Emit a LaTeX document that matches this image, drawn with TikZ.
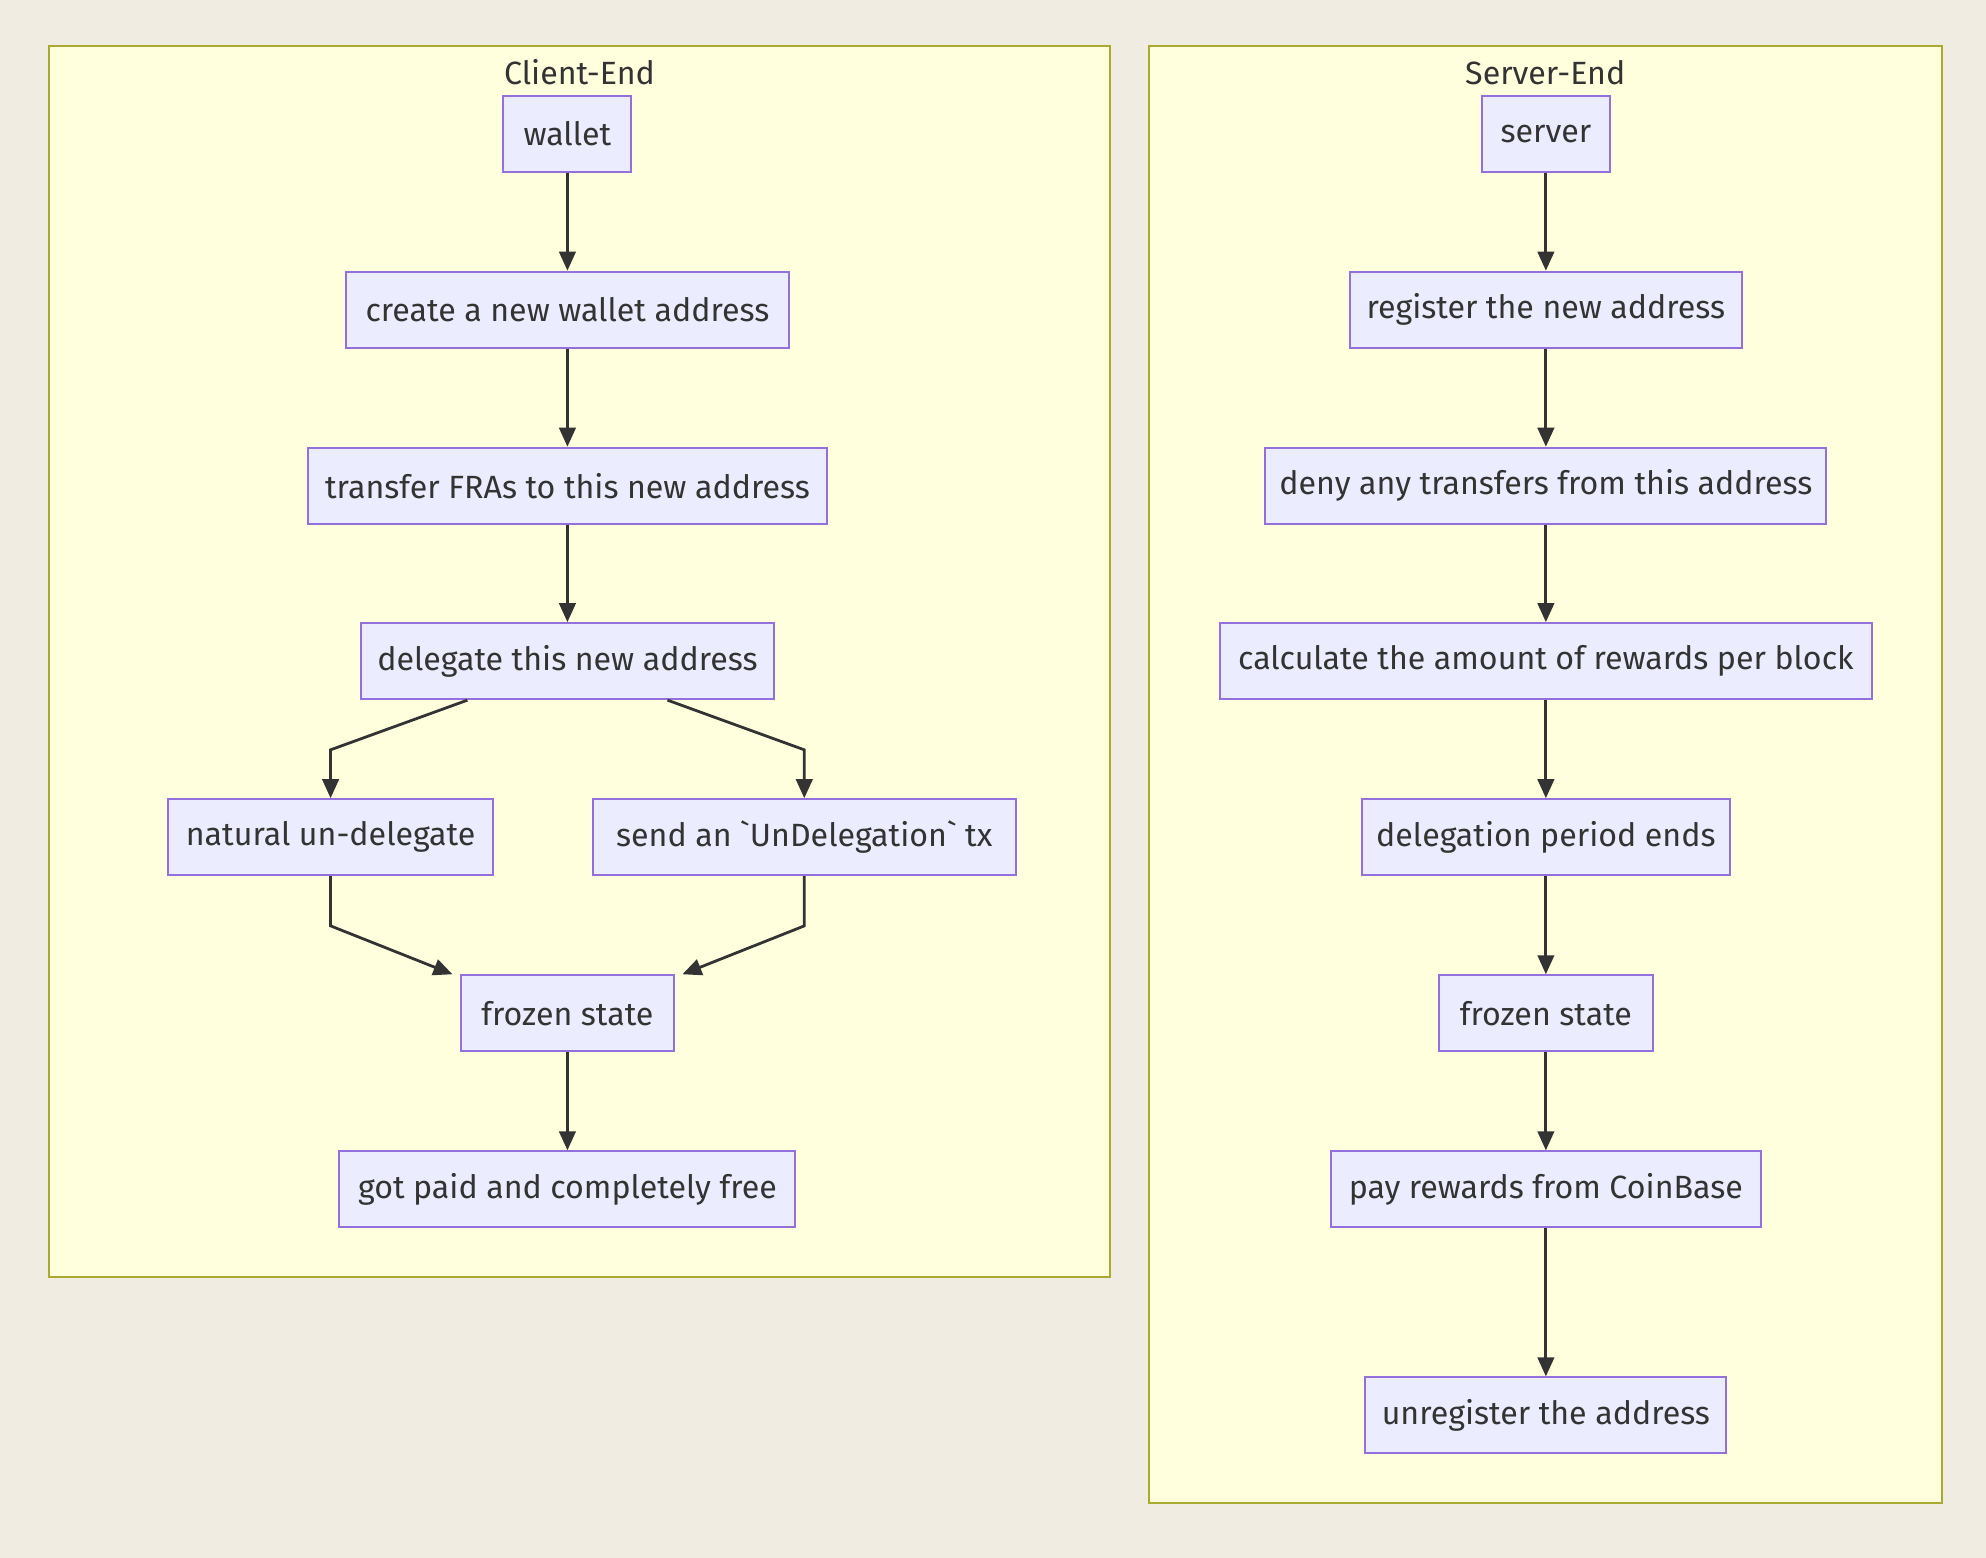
\documentclass[tikz,border=0pt]{standalone}
\usepackage{fontspec}
\setmainfont{Fira Sans}
\usepackage{xcolor}
\usetikzlibrary{arrows.meta,calc}

\definecolor{paper}{HTML}{F0ECE2}
\definecolor{groupfill}{HTML}{FFFFDE}
\definecolor{groupline}{HTML}{AAAA33}
\definecolor{boxfill}{HTML}{ECECFF}
\definecolor{boxline}{HTML}{9370DB}
\definecolor{ink}{HTML}{333333}

\tikzset{
  stepbox/.style={draw=boxline, fill=boxfill, line width=0.8pt, minimum height=30pt,
    inner sep=0pt, text=ink, font=\fontsize{12.7}{15}\selectfont},
  flow/.style={draw=ink, line width=1.1pt, -{Triangle[length=7.5pt,width=6.5pt]}},
  group/.style={draw=groupline, fill=groupfill, line width=0.8pt},
  grouptitle/.style={text=ink, font=\fontsize{12.7}{15}\selectfont}
}

\begin{document}
\begin{tikzpicture}[x=0.5pt,y=-0.5pt]

\fill[paper] (0,0) rectangle (1568,1230);
\useasboundingbox (0,0) rectangle (1568,1230);

\draw[group] (39,36) rectangle (876,1008);
\node[grouptitle] (clienttitle) at (457.5,57) {Client-End};

\draw[group] (907,36) rectangle (1533,1187);
\node[grouptitle] (servertitle) at (1220,57) {Server-End};

% client side
\node[stepbox, minimum width=50.5pt] (wallet) at (448,105.5) {wallet};
\node[stepbox, minimum width=175pt] (create) at (448,244.5) {create a new wallet address};
\node[stepbox, minimum width=205pt] (transfer) at (448,383.5) {transfer FRAs to this new address};
\node[stepbox, minimum width=163pt] (deleg) at (448,522) {delegate this new address};
\node[stepbox, minimum width=128pt] (natural) at (261,661) {natural un-delegate};
\node[stepbox, minimum width=167pt] (undeleg) at (635,661) {send an \textasciigrave UnDelegation\textasciigrave\ tx};
\node[stepbox, minimum width=84pt] (frozen) at (448,800) {frozen state};
\node[stepbox, minimum width=180pt] (paid) at (448,939) {got paid and completely free};

\coordinate (bendA) at (261,592);
\coordinate (bendB) at (635,592);
\coordinate (bendC) at (261,731);
\coordinate (bendD) at (635,731);

\draw[flow] (wallet) -- (create);
\draw[flow] (create) -- (transfer);
\draw[flow] (transfer) -- (deleg);
\draw[flow] ($(deleg.south)+(-79,0)$) -- (bendA) -- (natural.north);
\draw[flow] ($(deleg.south)+(79,0)$) -- (bendB) -- (undeleg.north);
\draw[flow] (natural.south) -- (bendC) -- ($(frozen.north west)+(-6,0)$);
\draw[flow] (undeleg.south) -- (bendD) -- ($(frozen.north east)+(6,0)$);
\draw[flow] (frozen) -- (paid);

% server side
\node[stepbox, minimum width=50.5pt] (server) at (1220.5,105.5) {server};
\node[stepbox, minimum width=155pt] (register) at (1220.5,244.5) {register the new address};
\node[stepbox, minimum width=221.5pt] (deny) at (1220.5,383.5) {deny any transfers from this address};
\node[stepbox, minimum width=257.5pt] (calc) at (1220.5,522) {calculate the amount of rewards per block};
\node[stepbox, minimum width=145pt] (period) at (1220.5,661) {delegation period ends};
\node[stepbox, minimum width=84.5pt] (frozensrv) at (1220.5,800) {frozen state};
\node[stepbox, minimum width=169.5pt] (pay) at (1220.5,939) {pay rewards from CoinBase};
\node[stepbox, minimum width=142.5pt] (unreg) at (1220.5,1117.5) {unregister the address};

\draw[flow] (server) -- (register);
\draw[flow] (register) -- (deny);
\draw[flow] (deny) -- (calc);
\draw[flow] (calc) -- (period);
\draw[flow] (period) -- (frozensrv);
\draw[flow] (frozensrv) -- (pay);
\draw[flow] (pay) -- (unreg);

\end{tikzpicture}
\end{document}
